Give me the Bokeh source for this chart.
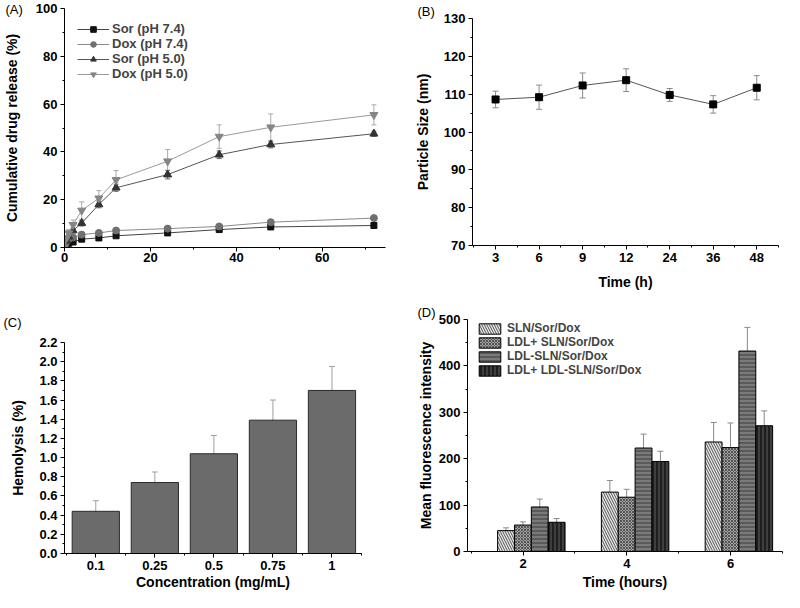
from bokeh.plotting import figure
from bokeh.layouts import column, row
from bokeh.models import (Range1d, FixedTicker, Whisker, ColumnDataSource, Legend,
                          LegendItem, TeeHead, PrintfTickFormatter, Title)
from bokeh.embed import file_html
from bokeh.resources import INLINE

FONT = "Liberation Sans"

# ---------------- Panel A: cumulative drug release ----------------
release_time_h = [0, 0.5, 1, 2, 4, 8, 12, 24, 36, 48, 72]
sor_ph74 = [0, 1.2, 1.8, 2.3, 3.5, 4.0, 4.9, 6.1, 7.5, 8.6, 9.2]
dox_ph74 = [0, 2.5, 3.6, 4.2, 5.4, 6.1, 7.1, 7.9, 8.8, 10.6, 12.3]
sor_ph50 = [0, 2.8, 4.5, 7.1, 10.2, 18.0, 25.0, 30.5, 38.8, 43.1, 47.6]
dox_ph50 = [0, 4.0, 6.0, 9.5, 15.5, 20.6, 28.3, 36.1, 46.4, 50.3, 55.5]
sor_ph74_err = [0, 0.3, 0.3, 0.4, 0.5, 0.5, 0.5, 0.6, 0.6, 0.7, 0.7]
dox_ph74_err = [0, 0.4, 0.4, 0.5, 0.6, 0.6, 0.7, 0.7, 0.8, 0.8, 0.9]
sor_ph50_err = [0, 0.5, 0.7, 1.0, 1.2, 1.4, 1.5, 1.8, 1.6, 1.4, 1.1]
dox_ph50_err = [0, 1.0, 1.5, 2.0, 3.6, 3.2, 3.9, 4.9, 4.9, 5.6, 4.2]
release_labels = ["Sor (pH 7.4)", "Dox (pH 7.4)", "Sor (pH 5.0)", "Dox (pH 5.0)"]

# ---------------- Panel B: particle size ----------------
size_time_labels = ["3", "6", "9", "12", "24", "36", "48"]
particle_size_nm = [108.6, 109.2, 112.3, 113.7, 109.8, 107.3, 111.7]
particle_size_err = [2.2, 3.2, 3.3, 3.0, 1.7, 2.3, 3.2]

# ---------------- Panel C: hemolysis ----------------
conc_labels = ["0.1", "0.25", "0.5", "0.75", "1"]
hemolysis_pct = [0.44, 0.74, 1.04, 1.39, 1.70]
hemolysis_err = [0.11, 0.11, 0.19, 0.21, 0.25]

# ---------------- Panel D: mean fluorescence intensity ----------------
uptake_hours = [2, 4, 6]
uptake_groups = ["SLN/Sor/Dox", "LDL+ SLN/Sor/Dox", "LDL-SLN/Sor/Dox", "LDL+ LDL-SLN/Sor/Dox"]
mfi_sln = [45, 128, 236]
mfi_ldl_plus_sln = [57, 117, 224]
mfi_ldl_sln = [96, 223, 432]
mfi_ldl_plus_ldl_sln = [63, 194, 271]
mfi_sln_err = [6, 25, 42]
mfi_ldl_plus_sln_err = [7, 17, 53]
mfi_ldl_sln_err = [17, 30, 51]
mfi_ldl_plus_ldl_sln_err = [8, 22, 32]


def style(p, ylab_standoff=8, xlab_standoff=6, xmaj_standoff=3):
    p.outline_line_color = None
    p.grid.visible = False
    p.background_fill_color = "white"
    p.border_fill_color = "white"
    for ax in list(p.xaxis) + list(p.yaxis):
        ax.axis_line_color = "black"
        ax.axis_line_width = 1
        ax.major_tick_in = 0
        ax.major_tick_out = 4
        ax.minor_tick_in = 0
        ax.minor_tick_out = 2
        ax.major_tick_line_color = "black"
        ax.minor_tick_line_color = "black"
        ax.major_label_text_font = FONT
        ax.major_label_text_font_style = "bold"
        ax.major_label_text_font_size = "13px"
        ax.major_label_text_color = "black"
        ax.axis_label_text_font = FONT
        ax.axis_label_text_font_style = "bold"
        ax.axis_label_text_font_size = "14px"
        ax.axis_label_text_color = "black"
    for ax in p.yaxis:
        ax.major_label_standoff = 3
        ax.axis_label_standoff = ylab_standoff
    for ax in p.xaxis:
        ax.major_label_standoff = xmaj_standoff
        ax.axis_label_standoff = xlab_standoff


def panel_title(p, text, offset, standoff=0):
    p.add_layout(Title(text=text, align="left", offset=offset, standoff=standoff,
                       vertical_align="bottom", text_font=FONT, text_font_size="13px",
                       text_font_style="normal", text_color="black"), "above")


def whisker(p, src, base, lower, upper, color, lower_head=True, upper_head=True, size=6):
    w = Whisker(source=src, base=base, lower=lower, upper=upper, line_color=color, line_width=1,
                upper_head=TeeHead(size=size, line_color=color, line_width=1) if upper_head else None,
                lower_head=TeeHead(size=size, line_color=color, line_width=1) if lower_head else None)
    p.add_layout(w)


# ===== Panel A =====
pa = figure(width=400, height=300, output_backend="svg", toolbar_location=None, title=None,
            x_range=Range1d(0, 74.7), y_range=Range1d(0, 100),
            min_border_left=62, min_border_right=15, min_border_top=8, min_border_bottom=53)
pa.yaxis.axis_label = "Cumulative drug release (%)"
pa.xaxis.ticker = FixedTicker(ticks=[0, 20, 40, 60], minor_ticks=[10, 30, 50, 70])
pa.yaxis.ticker = FixedTicker(ticks=[0, 20, 40, 60, 80, 100], minor_ticks=[10, 30, 50, 70, 90])
style(pa, ylab_standoff=13, xmaj_standoff=1)

series_a = [
    (sor_ph74, sor_ph74_err, "square", "#111111", "#444444", "#555555", 6),
    (dox_ph74, dox_ph74_err, "circle", "#707070", "#8a8a8a", "#999999", 7),
    (sor_ph50, sor_ph50_err, "triangle", "#333333", "#555555", "#666666", 8),
    (dox_ph50, dox_ph50_err, "inverted_triangle", "#858585", "#9a9a9a", "#aaaaaa", 8),
]
items = []
for (vals, errs, marker, mcol, lcol, ecol, msize), lab in zip(series_a, release_labels):
    src = ColumnDataSource(dict(x=release_time_h, y=vals,
                                lo=[v - e for v, e in zip(vals, errs)],
                                hi=[v + e for v, e in zip(vals, errs)]))
    whisker(pa, src, "x", "lo", "hi", ecol, size=5)
    lr = pa.line("x", "y", source=src, line_color=lcol, line_width=1)
    sr = pa.scatter("x", "y", source=src, marker=marker, size=msize, fill_color=mcol, line_color=mcol)
    items.append(LegendItem(label=lab, renderers=[lr, sr]))
leg_a = Legend(items=items, location=(13, 166), margin=0, padding=0, spacing=0,
               glyph_width=32, glyph_height=14, label_height=14, label_standoff=3,
               label_text_font=FONT, label_text_font_style="bold", label_text_font_size="13px",
               label_text_line_height=1.0,
               border_line_color=None, background_fill_alpha=0)
pa.add_layout(leg_a)
panel_title(pa, "(A)", -59, standoff=-17)

# ===== Panel B =====
nb = len(particle_size_nm)
idx_b = list(range(nb))
pb = figure(width=384, height=300, output_backend="svg", toolbar_location=None, title=None,
            x_range=Range1d(-0.53, nb - 0.5), y_range=Range1d(70, 130),
            min_border_left=72, min_border_right=6, min_border_top=18, min_border_bottom=55)
pb.xaxis.axis_label = "Time (h)"
pb.yaxis.axis_label = "Particle Size (nm)"
pb.xaxis.ticker = FixedTicker(ticks=idx_b, minor_ticks=[i - 0.5 for i in range(nb + 1)])
pb.xaxis.major_label_overrides = {i: t for i, t in enumerate(size_time_labels)}
pb.yaxis.ticker = FixedTicker(ticks=[70, 80, 90, 100, 110, 120, 130],
                              minor_ticks=[75, 85, 95, 105, 115, 125])
style(pb, ylab_standoff=10, xlab_standoff=9)
src_b = ColumnDataSource(dict(x=idx_b, y=particle_size_nm,
                              lo=[v - e for v, e in zip(particle_size_nm, particle_size_err)],
                              hi=[v + e for v, e in zip(particle_size_nm, particle_size_err)]))
whisker(pb, src_b, "x", "lo", "hi", "#8a8a8a", size=6)
pb.line("x", "y", source=src_b, line_color="#555555", line_width=1)
pb.scatter("x", "y", source=src_b, marker="square", size=7, fill_color="black", line_color="black")
panel_title(pb, "(B)", -55, standoff=0)

# ===== Panel C =====
nc = len(hemolysis_pct)
idx_c = list(range(nc))
pc = figure(width=400, height=292, output_backend="svg", toolbar_location=None, title=None,
            x_range=Range1d(-0.53, nc - 0.5), y_range=Range1d(0, 2.2),
            min_border_left=64, min_border_right=39, min_border_top=42, min_border_bottom=35)
pc.xaxis.axis_label = "Concentration (mg/mL)"
pc.yaxis.axis_label = "Hemolysis (%)"
pc.xaxis.ticker = FixedTicker(ticks=idx_c, minor_ticks=[i - 0.5 for i in range(nc + 1)])
pc.xaxis.major_label_overrides = {i: t for i, t in enumerate(conc_labels)}
pc.yaxis.ticker = FixedTicker(ticks=[i * 0.2 for i in range(12)],
                              minor_ticks=[i * 0.2 + 0.1 for i in range(11)])
pc.yaxis.formatter = PrintfTickFormatter(format="%.1f")
style(pc, ylab_standoff=10, xlab_standoff=1)
src_c = ColumnDataSource(dict(x=idx_c, top=hemolysis_pct,
                              lo=[v - e for v, e in zip(hemolysis_pct, hemolysis_err)],
                              hi=[v + e for v, e in zip(hemolysis_pct, hemolysis_err)]))
pc.vbar(x="x", top="top", width=0.8, source=src_c, fill_color="#6b6b6b", line_color="#2a2a2a",
        line_width=1)
whisker(pc, src_c, "x", "top", "hi", "#a0a0a0", lower_head=False, size=6)
whisker(pc, src_c, "x", "lo", "top", "#222222", upper_head=False, size=6)
panel_title(pc, "(C)", -61, standoff=25)

# ===== Panel D =====
pd_ = figure(width=384, height=292, output_backend="svg", toolbar_location=None, title=None,
             x_range=Range1d(0.93, 7.0), y_range=Range1d(0, 500),
             min_border_left=67, min_border_right=2, min_border_top=19, min_border_bottom=37)
pd_.xaxis.axis_label = "Time (hours)"
pd_.yaxis.axis_label = "Mean fluorescence intensity"
pd_.xaxis.ticker = FixedTicker(ticks=uptake_hours, minor_ticks=[1, 3, 5, 7])
pd_.yaxis.ticker = FixedTicker(ticks=[0, 100, 200, 300, 400, 500],
                               minor_ticks=[50, 150, 250, 350, 450])
style(pd_, ylab_standoff=2, xlab_standoff=3)

bar_w = 0.325
d_series = [
    (mfi_sln, mfi_sln_err, dict(fill_color="#e6e6e6", hatch_pattern="\\", hatch_color="#555555",
                                hatch_scale=5, hatch_weight=1)),
    (mfi_ldl_plus_sln, mfi_ldl_plus_sln_err, dict(fill_color="#a0a0a0", hatch_pattern="x",
                                                  hatch_color="#555555", hatch_scale=3, hatch_weight=1)),
    (mfi_ldl_sln, mfi_ldl_sln_err, dict(fill_color="#7a7a7a", hatch_pattern="-", hatch_color="#3a3a3a",
                                        hatch_scale=4, hatch_weight=1)),
    (mfi_ldl_plus_ldl_sln, mfi_ldl_plus_ldl_sln_err, dict(fill_color="#1e1e1e", hatch_pattern="|",
                                                          hatch_color="#606060", hatch_scale=4,
                                                          hatch_weight=1)),
]
d_items = []
for i, ((vals, errs, st), lab) in enumerate(zip(d_series, uptake_groups)):
    off = -0.49 + bar_w * (i + 0.5)
    src = ColumnDataSource(dict(x=[h + off for h in uptake_hours], top=vals,
                                lo=[v - e for v, e in zip(vals, errs)],
                                hi=[v + e for v, e in zip(vals, errs)]))
    r = pd_.vbar(x="x", top="top", width=bar_w, source=src, line_color="black", line_width=1, **st)
    whisker(pd_, src, "x", "top", "hi", "#8a8a8a", lower_head=False, size=6)
    whisker(pd_, src, "x", "lo", "top", "#333333", upper_head=False, size=6)
    d_items.append(LegendItem(label=lab, renderers=[r]))
leg_d = Legend(items=d_items, location=(9, 174), margin=0, padding=0, spacing=0,
               glyph_width=27, glyph_height=13, label_height=13, label_standoff=4,
               label_text_font=FONT, label_text_font_style="bold", label_text_font_size="12px",
               label_text_line_height=1.0,
               border_line_color=None, background_fill_alpha=0)
pd_.add_layout(leg_d)
panel_title(pd_, "(D)", -50, standoff=0)

layout = column(row(column(pa), column(pb)), row(column(pc), column(pd_)))
open("out.html", "w").write(file_html(layout, INLINE))
